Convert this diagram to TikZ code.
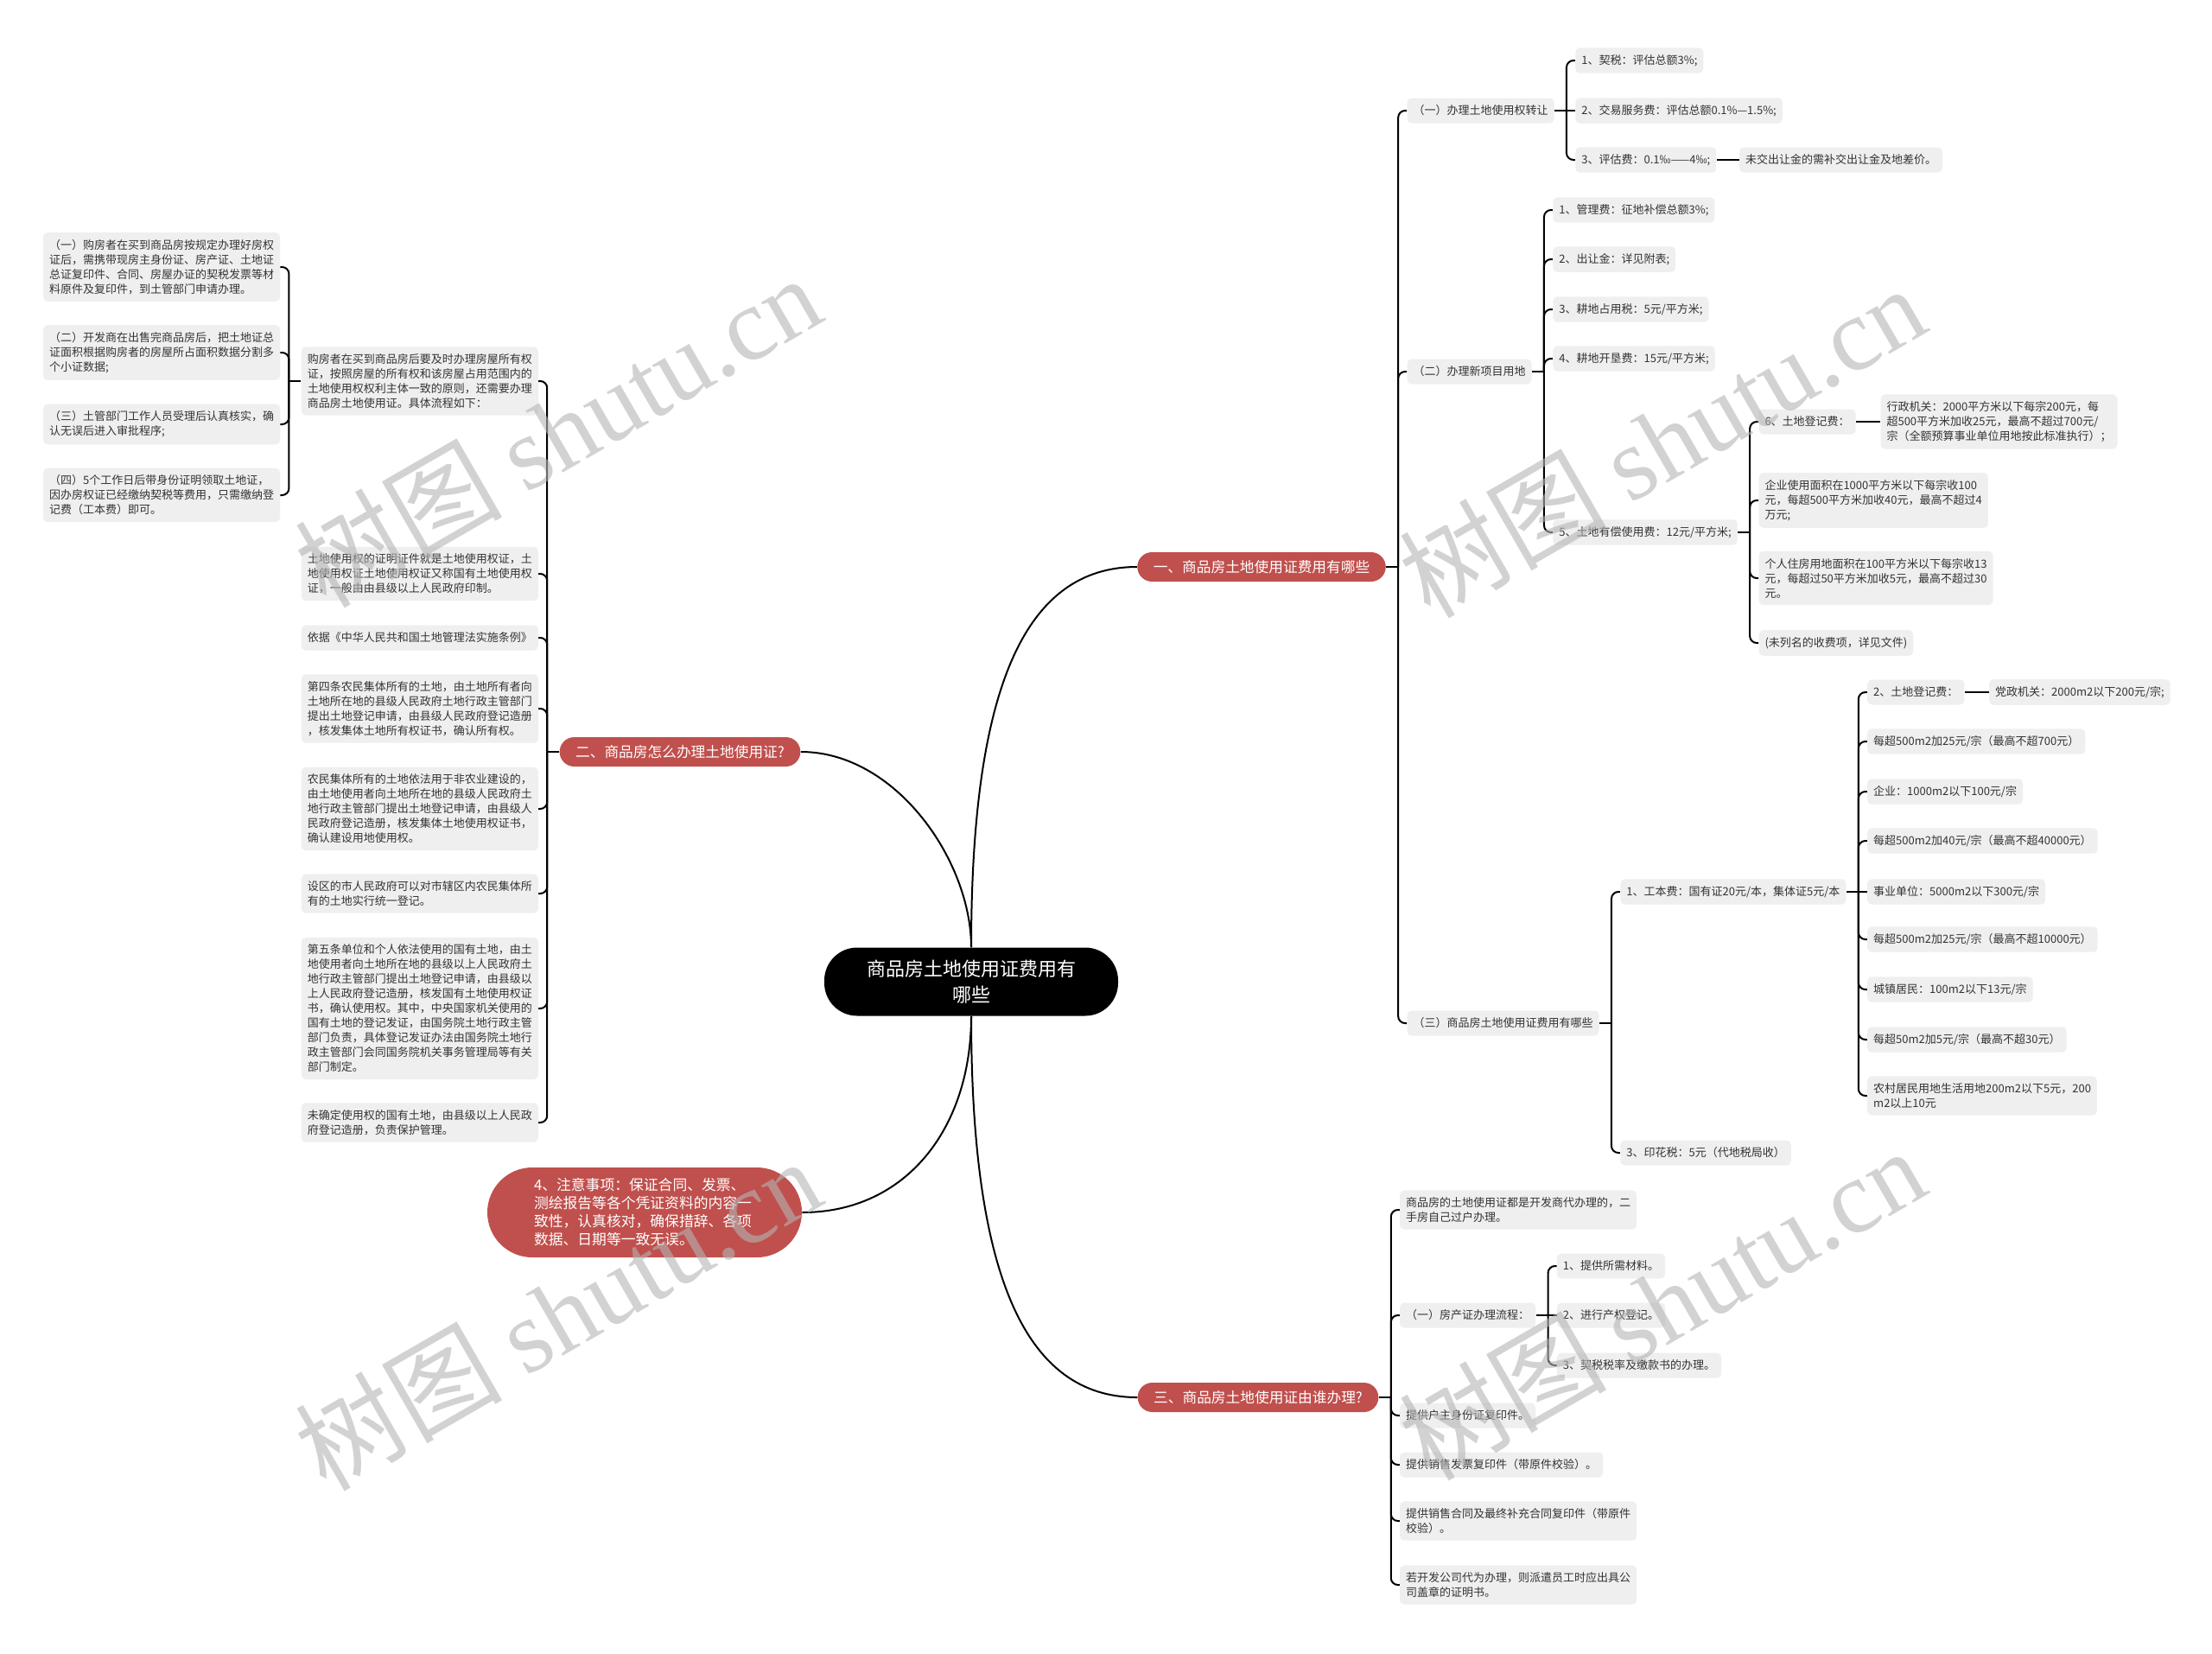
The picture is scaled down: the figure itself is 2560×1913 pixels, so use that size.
\documentclass[tikz,border=0pt]{standalone}
\usepackage{fontspec}
\setmainfont{Noto Sans CJK SC}
\newfontfamily\wmserif{Liberation Serif}
\usetikzlibrary{calc}
\definecolor{boxgray}{HTML}{EFEFEF}
\definecolor{txtgray}{HTML}{333333}
\definecolor{redbr}{HTML}{C0504D}
\definecolor{wmgray}{HTML}{B4B4B4}
\tikzset{
  leaf/.style={fill=boxgray, rounded corners=2.5pt, text=txtgray, font=\fontsize{6.5pt}{8.5pt}\selectfont, inner xsep=3.5pt, inner ysep=4pt, align=left, minimum height=14.5pt},
  leafR/.style={leaf, anchor=west, xshift=5pt},
  leafL/.style={leaf, anchor=east, xshift=-5pt},
  rootnode/.style={fill=black, text=white, rounded corners=19pt, font=\fontsize{11pt}{15pt}\selectfont, align=center, minimum width=170pt, minimum height=39.5pt, inner sep=0pt},
  branch/.style={fill=redbr, text=white, rounded corners=8.5pt, font=\fontsize{8.35pt}{10.5pt}\selectfont, inner xsep=9.25pt, inner ysep=0pt, minimum height=17pt},
  branchbig/.style={fill=redbr, text=white, rounded corners=26pt, font=\fontsize{8.4pt}{10.5pt}\selectfont, text width=128pt, inner xsep=27pt, align=left, minimum height=52pt},
  conn/.style={draw=black, line width=1pt, rounded corners=4pt},
  curve/.style={draw=black, line width=1pt},
  wm/.style={text=wmgray, opacity=0.6, rotate=30, font=\fontsize{60pt}{60pt}\selectfont, inner sep=0pt}
}
\begin{document}
\begin{tikzpicture}[x=0.5pt,y=-0.5pt]
\fill[white] (0,0) rectangle (2560,1913);
\useasboundingbox (0,0) rectangle (2560,1913);

% root and main branches
\node[rootnode] (root) at (1124,1136) {商品房土地使用证费用有\\哪些};
\node[branch] (b1) at (1460,656) {一、商品房土地使用证费用有哪些};
\node[branch] (b2) at (787,870) {二、商品房怎么办理土地使用证?};
\node[branch] (b3) at (1456,1617) {三、商品房土地使用证由谁办理?};
\node[branchbig] (b4) at (746,1403) {4、注意事项：保证合同、发票、\\测绘报告等各个凭证资料的内容一\\致性，认真核对，确保措辞、各项\\数据、日期等一致无误。};

\draw[curve] (root.north) .. controls ($(root.north)+(0,-300)$) and ($(b1.west)+(-130,0)$) .. (b1.west);
\draw[curve] (root.north) .. controls ($(root.north)+(0,-100)$) and ($(b2.east)+(110,0)$) .. (b2.east);
\draw[curve] (root.south) .. controls ($(root.south)+(0,130)$) and ($(b4.east)+(120,0)$) .. (b4.east);
\draw[curve] (root.south) .. controls ($(root.south)+(0,300)$) and ($(b3.west)+(-130,0)$) .. (b3.west);

% ---------- branch 1 ----------
\draw[conn] (b1.east) -- ++(7pt,0) coordinate (j1);
\node[leafR] (n11) at (j1 |- 0,128) {（一）办理土地使用权转让};
\node[leafR] (n12) at (j1 |- 0,430) {（二）办理新项目用地};
\node[leafR] (n13) at (j1 |- 0,1184) {（三）商品房土地使用证费用有哪些};
\foreach \c in {n11,n12,n13} \draw[conn] (j1) |- (\c.west);

\draw[conn] (n11.east) -- ++(7pt,0) coordinate (j11);
\node[leafR] (n111) at (j11 |- 0,70) {1、契税：评估总额3\%;};
\node[leafR] (n112) at (j11 |- 0,128) {2、交易服务费：评估总额0.1\%—1.5\%;};
\node[leafR] (n113) at (j11 |- 0,185) {3、评估费：0.1‰——4‰;};
\draw[conn] (j11) |- (n111.west);
\draw[conn] (j11) -- (n112.west);
\draw[conn] (j11) |- (n113.west);
\node[leaf, anchor=west] (n1131) at ([xshift=13pt]n113.east) {未交出让金的需补交出让金及地差价。};
\draw[conn] (n113.east) -- (n1131.west);

\draw[conn] (n12.east) -- ++(7pt,0) coordinate (j12);
\node[leafR] (n121) at (j12 |- 0,243) {1、管理费：征地补偿总额3\%;};
\node[leafR] (n122) at (j12 |- 0,300) {2、出让金：详见附表;};
\node[leafR] (n123) at (j12 |- 0,358) {3、耕地占用税：5元/平方米;};
\node[leafR] (n124) at (j12 |- 0,415) {4、耕地开垦费：15元/平方米;};
\node[leafR] (n125) at (j12 |- 0,616) {5、土地有偿使用费：12元/平方米;};
\foreach \c in {n121,n122,n123,n124,n125} \draw[conn] (j12) |- (\c.west);

\draw[conn] (n125.east) -- ++(7pt,0) coordinate (j125);
\node[leafR] (n1251) at (j125 |- 0,488) {6、土地登记费：};
\node[leafR] (n1252) at (j125 |- 0,579) {企业使用面积在1000平方米以下每宗收100\\元，每超500平方米加收40元，最高不超过4\\万元;};
\node[leafR] (n1253) at (j125 |- 0,669) {个人住房用地面积在100平方米以下每宗收13\\元，每超过50平方米加收5元，最高不超过30\\元。};
\node[leafR] (n1254) at (j125 |- 0,744) {(未列名的收费项，详见文件)};
\foreach \c in {n1251,n1252,n1253,n1254} \draw[conn] (j125) |- (\c.west);
\node[leaf, anchor=west] (n12511) at ([xshift=14pt]n1251.east) {行政机关：2000平方米以下每宗200元，每\\超500平方米加收25元，最高不超过700元/\\宗（全额预算事业单位用地按此标准执行）；};
\draw[conn] (n1251.east) -- (n12511.west);

\draw[conn] (n13.east) -- ++(7pt,0) coordinate (j13);
\node[leafR] (n131) at (j13 |- 0,1032) {1、工本费：国有证20元/本，集体证5元/本};
\node[leafR] (n132) at (j13 |- 0,1334) {3、印花税：5元（代地税局收）};
\foreach \c in {n131,n132} \draw[conn] (j13) |- (\c.west);

\draw[conn] (n131.east) -- ++(7pt,0) coordinate (j131);
\node[leafR] (n1311) at (j131 |- 0,801) {2、土地登记费：};
\node[leafR] (n1312) at (j131 |- 0,858) {每超500m2加25元/宗（最高不超700元）};
\node[leafR] (n1313) at (j131 |- 0,916) {企业：1000m2以下100元/宗};
\node[leafR] (n1314) at (j131 |- 0,973) {每超500m2加40元/宗（最高不超40000元）};
\node[leafR] (n1315) at (j131 |- 0,1032) {事业单位：5000m2以下300元/宗};
\node[leafR] (n1316) at (j131 |- 0,1087) {每超500m2加25元/宗（最高不超10000元）};
\node[leafR] (n1317) at (j131 |- 0,1145) {城镇居民：100m2以下13元/宗};
\node[leafR] (n1318) at (j131 |- 0,1203) {每超50m2加5元/宗（最高不超30元）};
\node[leafR] (n1319) at (j131 |- 0,1268) {农村居民用地生活用地200m2以下5元，200\\m2以上10元};
\foreach \c in {n1311,n1312,n1313,n1314,n1316,n1317,n1318,n1319} \draw[conn] (j131) |- (\c.west);
\draw[conn] (j131) -- (n1315.west);
\node[leaf, anchor=west] (n13111) at ([xshift=14pt]n1311.east) {党政机关：2000m2以下200元/宗;};
\draw[conn] (n1311.east) -- (n13111.west);

% ---------- branch 3 ----------
\draw[conn] (b3.east) -- ++(7pt,0) coordinate (j3);
\node[leafR] (m1) at (j3 |- 0,1400) {商品房的土地使用证都是开发商代办理的，二\\手房自己过户办理。};
\node[leafR] (m2) at (j3 |- 0,1522) {（一）房产证办理流程：};
\node[leafR] (m3) at (j3 |- 0,1638) {提供户主身份证复印件。};
\node[leafR] (m4) at (j3 |- 0,1695) {提供销售发票复印件（带原件校验）。};
\node[leafR] (m5) at (j3 |- 0,1760) {提供销售合同及最终补充合同复印件（带原件\\校验）。};
\node[leafR] (m6) at (j3 |- 0,1834) {若开发公司代为办理，则派遣员工时应出具公\\司盖章的证明书。};
\foreach \c in {m1,m2,m3,m4,m5,m6} \draw[conn] (j3) |- (\c.west);

\draw[conn] (m2.east) -- ++(7pt,0) coordinate (j32);
\node[leafR] (m21) at (j32 |- 0,1465) {1、提供所需材料。};
\node[leafR] (m22) at (j32 |- 0,1522) {2、进行产权登记。};
\node[leafR] (m23) at (j32 |- 0,1580) {3、契税税率及缴款书的办理。};
\draw[conn] (j32) |- (m21.west);
\draw[conn] (j32) -- (m22.west);
\draw[conn] (j32) |- (m23.west);

% ---------- branch 2 (left) ----------
\draw[conn] (b2.west) -- ++(-7pt,0) coordinate (j2);
\node[leafL] (l1) at (j2 |- 0,441) {购房者在买到商品房后要及时办理房屋所有权\\证，按照房屋的所有权和该房屋占用范围内的\\土地使用权权利主体一致的原则，还需要办理\\商品房土地使用证。具体流程如下：};
\node[leafL] (l2) at (j2 |- 0,664) {土地使用权的证明证件就是土地使用权证，土\\地使用权证土地使用权证又称国有土地使用权\\证，一般由由县级以上人民政府印制。};
\node[leafL] (l3) at (j2 |- 0,738) {依据《中华人民共和国土地管理法实施条例》};
\node[leafL] (l4) at (j2 |- 0,820) {第四条农民集体所有的土地，由土地所有者向\\土地所在地的县级人民政府土地行政主管部门\\提出土地登记申请，由县级人民政府登记造册\\，核发集体土地所有权证书，确认所有权。};
\node[leafL] (l5) at (j2 |- 0,936) {农民集体所有的土地依法用于非农业建设的，\\由土地使用者向土地所在地的县级人民政府土\\地行政主管部门提出土地登记申请，由县级人\\民政府登记造册，核发集体土地使用权证书，\\确认建设用地使用权。};
\node[leafL] (l6) at (j2 |- 0,1034) {设区的市人民政府可以对市辖区内农民集体所\\有的土地实行统一登记。};
\node[leafL] (l7) at (j2 |- 0,1167) {第五条单位和个人依法使用的国有土地，由土\\地使用者向土地所在地的县级以上人民政府土\\地行政主管部门提出土地登记申请，由县级以\\上人民政府登记造册，核发国有土地使用权证\\书，确认使用权。其中，中央国家机关使用的\\国有土地的登记发证，由国务院土地行政主管\\部门负责，具体登记发证办法由国务院土地行\\政主管部门会同国务院机关事务管理局等有关\\部门制定。};
\node[leafL] (l8) at (j2 |- 0,1299) {未确定使用权的国有土地，由县级以上人民政\\府登记造册，负责保护管理。};
\foreach \c in {l1,l2,l3,l4,l5,l6,l7,l8} \draw[conn] (j2) |- (\c.east);

\draw[conn] (l1.west) -- ++(-7pt,0) coordinate (j21);
\node[leafL] (l11) at (j21 |- 0,309) {（一）购房者在买到商品房按规定办理好房权\\证后，需携带现房主身份证、房产证、土地证\\总证复印件、合同、房屋办证的契税发票等材\\料原件及复印件，到土管部门申请办理。};
\node[leafL] (l12) at (j21 |- 0,408) {（二）开发商在出售完商品房后，把土地证总\\证面积根据购房者的房屋所占面积数据分割多\\个小证数据;};
\node[leafL] (l13) at (j21 |- 0,491) {（三）土管部门工作人员受理后认真核实，确\\认无误后进入审批程序;};
\node[leafL] (l14) at (j21 |- 0,573) {（四）5个工作日后带身份证明领取土地证，\\因办房权证已经缴纳契税等费用，只需缴纳登\\记费（工本费）即可。};
\foreach \c in {l11,l12,l13,l14} \draw[conn] (j21) |- (\c.east);

% ---------- watermarks ----------
\node[wm] (w1) at (645,498) {树图 {\wmserif shutu.cn}};
\node[wm] (w2) at (1923,510) {树图 {\wmserif shutu.cn}};
\node[wm] (w3) at (645,1520) {树图 {\wmserif shutu.cn}};
\node[wm] (w4) at (1923,1508) {树图 {\wmserif shutu.cn}};
\end{tikzpicture}
\end{document}
